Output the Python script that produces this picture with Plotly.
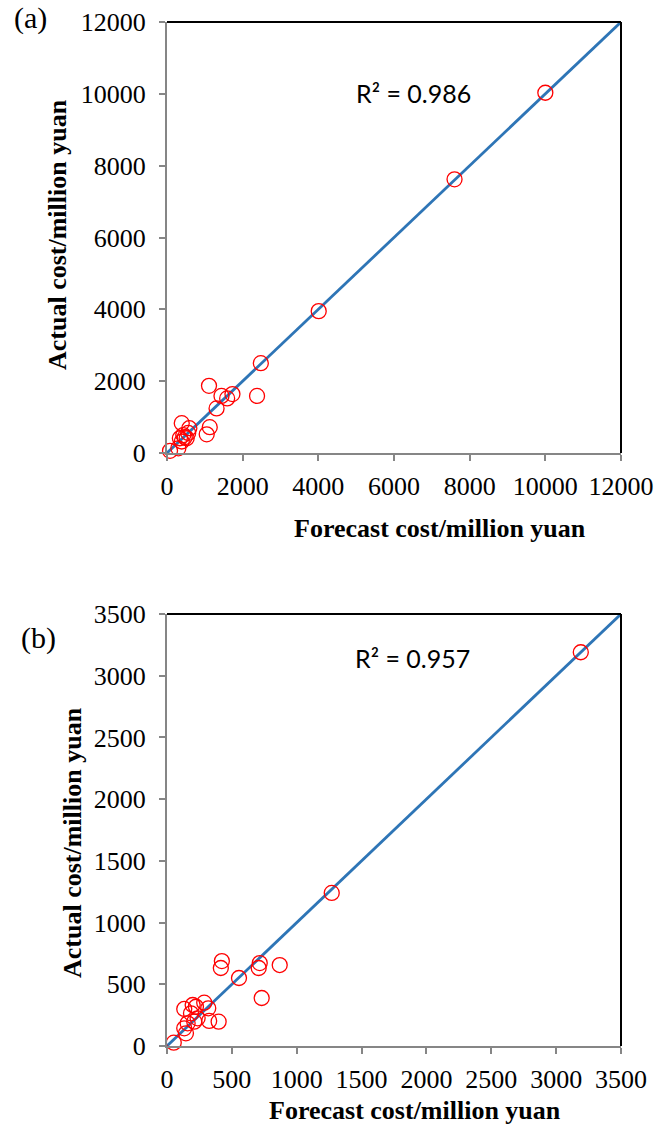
import plotly.graph_objects as go

# Panel (a) data
a_forecast = [10000, 7600, 4010, 2480, 2380, 1110, 1440, 1590, 1730, 1310, 1130, 1050,
              390, 590, 430, 340, 520, 390, 300, 80, 470, 560]
a_actual = [10030, 7620, 3950, 2500, 1590, 1870, 1590, 1520, 1640, 1240, 720, 520,
            830, 690, 500, 410, 410, 320, 130, 60, 440, 560]
a_r2 = "R² = 0.986"

# Panel (b) data
b_forecast = [3190, 1270, 715, 707, 869, 730, 423, 415, 555, 133, 198, 223, 287, 318,
              185, 236, 325, 398, 159, 133, 146, 210, 52]
b_actual = [3190, 1240, 672, 632, 656, 389, 688, 632, 551, 300, 332, 318, 351, 305,
            265, 224, 203, 197, 184, 143, 103, 197, 27]
b_r2 = "R² = 0.957"

a_line = [0, 12000]
b_line = [0, 3500]
a_ticks = [0, 2000, 4000, 6000, 8000, 10000, 12000]
b_ticks = [0, 500, 1000, 1500, 2000, 2500, 3000, 3500]

xtitle = "Forecast cost/million yuan"
ytitle = "Actual cost/million yuan"

W, H = 670, 1131
x0, x1 = 167, 621
a_top, a_bot = 22, 453
b_top, b_bot = 614, 1046

def py(p):
    return 1 - p / H

fig = go.Figure()

line_color = "#2E75B6"
marker = dict(symbol="circle-open", size=15, color="#FF0000", line=dict(width=1.3, color="#FF0000"))

fig.add_trace(go.Scatter(x=a_line, y=a_line, mode="lines", line=dict(color=line_color, width=2.8),
                         xaxis="x", yaxis="y", showlegend=False, hoverinfo="skip"))
fig.add_trace(go.Scatter(x=a_forecast, y=a_actual, mode="markers", marker=marker,
                         xaxis="x", yaxis="y", showlegend=False, cliponaxis=False))
fig.add_trace(go.Scatter(x=b_line, y=b_line, mode="lines", line=dict(color=line_color, width=2.8),
                         xaxis="x2", yaxis="y2", showlegend=False, hoverinfo="skip"))
fig.add_trace(go.Scatter(x=b_forecast, y=b_actual, mode="markers", marker=marker,
                         xaxis="x2", yaxis="y2", showlegend=False, cliponaxis=False))

tickfont = dict(family="Liberation Serif, Times New Roman, serif", size=26, color="black")
axis_common = dict(showgrid=False, zeroline=False, showline=True, linecolor="#868686", linewidth=2,
                   ticks="outside", ticklen=6, tickcolor="#868686", tickwidth=1.5,
                   tickfont=tickfont, mirror=False, automargin=False)
xax = dict(axis_common, ticklabelstandoff=3)
yax = dict(axis_common, ticklabelstandoff=8)

fig.update_layout(
    width=W, height=H, margin=dict(l=0, r=0, t=0, b=0, autoexpand=False),
    paper_bgcolor="white", plot_bgcolor="white",
    xaxis=dict(domain=[x0 / W, x1 / W], range=[0, 12000], tickvals=a_ticks,
               ticktext=[str(v) for v in a_ticks], anchor="y", **xax),
    yaxis=dict(domain=[py(a_bot), py(a_top)], range=[0, 12000], tickvals=a_ticks,
               ticktext=[str(v) for v in a_ticks], anchor="x", **yax),
    xaxis2=dict(domain=[x0 / W, x1 / W], range=[0, 3500], tickvals=b_ticks,
                ticktext=[str(v) for v in b_ticks], anchor="y2", **xax),
    yaxis2=dict(domain=[py(b_bot), py(b_top)], range=[0, 3500], tickvals=b_ticks,
                ticktext=[str(v) for v in b_ticks], anchor="x2", **yax),
)

# top/right borders in black
for (top, bot) in [(a_top, a_bot), (b_top, b_bot)]:
    fig.add_shape(type="line", xref="paper", yref="paper", x0=x0 / W, x1=x1 / W, y0=py(top), y1=py(top),
                  line=dict(color="black", width=2))
    fig.add_shape(type="line", xref="paper", yref="paper", x0=x1 / W, x1=x1 / W, y0=py(top), y1=py(bot),
                  line=dict(color="black", width=2))

titlefont = dict(family="Liberation Serif, Times New Roman, serif", size=26, color="black")
r2font = dict(family="Lato, Open Sans, sans-serif", size=25, color="black")
labelfont = dict(family="Liberation Serif, Times New Roman, serif", size=30, color="black")

ann = [
    dict(text="<b>" + xtitle + "</b>", x=440 / W, y=py(528), xanchor="center", yanchor="middle", font=titlefont),
    dict(text="<b>" + ytitle + "</b>", x=58 / W, y=py(235), xanchor="center", yanchor="middle", font=titlefont, textangle=-90),
    dict(text="<b>" + xtitle + "</b>", x=415 / W, y=py(1110), xanchor="center", yanchor="middle", font=titlefont),
    dict(text="<b>" + ytitle + "</b>", x=72 / W, y=py(843), xanchor="center", yanchor="middle", font=titlefont, textangle=-90),
    dict(text="(a)", x=30 / W, y=py(18), xanchor="center", yanchor="middle", font=labelfont),
    dict(text="(b)", x=38 / W, y=py(638), xanchor="center", yanchor="middle", font=labelfont),
    dict(text=a_r2, x=413 / W, y=py(93), xanchor="center", yanchor="middle", font=r2font),
    dict(text=b_r2, x=412 / W, y=py(658), xanchor="center", yanchor="middle", font=r2font),
]
for a in ann:
    a.update(xref="paper", yref="paper", showarrow=False)
    fig.add_annotation(**a)

fig.write_html("out.html")
